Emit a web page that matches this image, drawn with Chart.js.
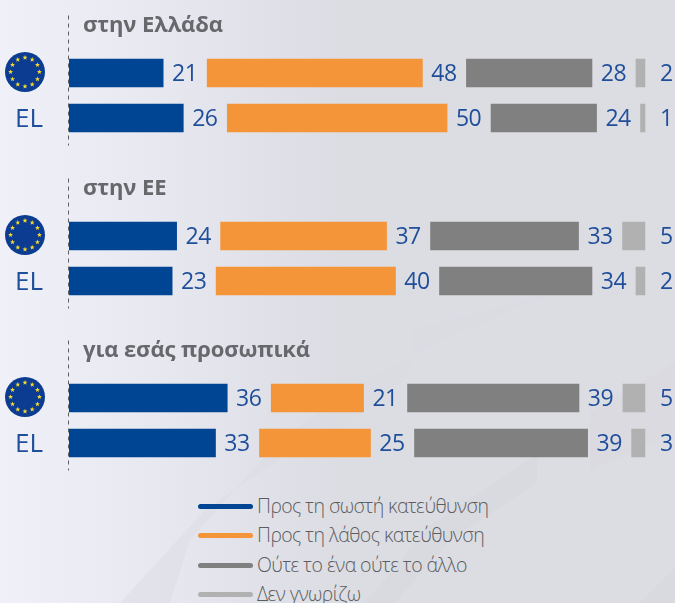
<!DOCTYPE html>
<html>
<head>
<meta charset="utf-8">
<script src="https://cdn.jsdelivr.net/npm/chart.js@4"></script>
<style>
html,body{margin:0;padding:0}
#page{position:relative;width:675px;height:603px;overflow:hidden;
  background:linear-gradient(90deg,#f0f1f8 0,#e6e7ef 170px,#dcdde3 340px,#dcdde3 675px)}
#bg{position:absolute;left:0;top:0}
canvas{position:absolute;left:0}
.leg{position:absolute;left:198px;font:300 19.5px "Open Sans",sans-serif;color:#5c5d61;letter-spacing:-.55px;white-space:nowrap}
.leg i{position:absolute;left:0;top:10px;width:55px;height:5px;border-radius:3px}
.leg span{position:absolute;left:59px;top:-2px}
</style>
</head>
<body>
<div id="page">
<svg id="bg" width="675" height="603">
  <polygon points="120,603 205,510 290,452 340,432 413,368 413,330 553,293 430,345 340,395 275,445 190,540 170,603" fill="#d9dae0" opacity=".4"/>
  <polygon points="537,455 537,483 450,540 395,603 365,603 430,525" fill="#d7d8dd" opacity=".6"/>
  <polygon points="590,413 675,362 675,432 590,470" fill="#d7d8dd" opacity=".5"/>
  <polygon points="640,603 675,568 675,603" fill="#d7d8dd" opacity=".7"/>
</svg>
<canvas id="c0" width="675" height="162" style="top:0"></canvas>
<canvas id="c1" width="675" height="162" style="top:163px"></canvas>
<canvas id="c2" width="675" height="162" style="top:325px"></canvas>
<div id="legend"></div>
</div>
<script>
const groupTitles = ['στην Ελλάδα', 'στην ΕΕ', 'για εσάς προσωπικά'];
const rowLabels = ['EU', 'EL'];
// two rows per group: EU, EL
const rightWay = [21, 26, 24, 23, 36, 33];
const wrongWay = [48, 50, 37, 40, 21, 25];
const neither = [28, 24, 33, 34, 39, 39];
const dontKnow = [2, 1, 5, 2, 5, 3];
const seriesNames = ['Προς τη σωστή κατεύθυνση', 'Προς τη λάθος κατεύθυνση', 'Ούτε το ένα ούτε το άλλο', 'Δεν γνωρίζω'];
const seriesColors = ['#004494', '#f39538', '#808080', '#b1b1b1'];

const allSeries = [rightWay, wrongWay, neither, dontKnow];
const gapUnits = 9.91;   // white space between segments, in axis units
const xMax = 136.5;

function drawFlag(ctx, x, y, r) {
  ctx.save();
  ctx.fillStyle = '#0c3c92';
  ctx.beginPath();
  ctx.arc(x, y, r, 0, Math.PI * 2);
  ctx.fill();
  ctx.fillStyle = '#f6d92e';
  for (let i = 0; i < 12; i++) {
    const a = i * Math.PI / 6;
    const sx = x + Math.sin(a) * r * 0.72, sy = y - Math.cos(a) * r * 0.72;
    ctx.beginPath();
    for (let k = 0; k < 10; k++) {
      const rr = k % 2 ? 1.1 : 2.6;
      const b = k * Math.PI / 5;
      ctx.lineTo(sx + Math.sin(b) * rr, sy - Math.cos(b) * rr);
    }
    ctx.fill();
  }
  ctx.restore();
}

const extras = {
  id: 'extras',
  afterDatasetsDraw(chart, args, opts) {
    const ctx = chart.ctx, yScale = chart.scales.y;
    const axisX = chart.chartArea.left - 0.5;
    ctx.save();
    // dashed divider
    ctx.strokeStyle = '#5f6063';
    ctx.setLineDash([4, 4]);
    ctx.lineWidth = 1;
    ctx.beginPath();
    ctx.moveTo(axisX, yScale.top - 35);
    ctx.lineTo(axisX, yScale.bottom + 5);
    ctx.stroke();
    ctx.setLineDash([]);
    // group title
    ctx.font = '700 22px "Open Sans"';
    ctx.letterSpacing = '-0.1px';
    ctx.fillStyle = '#67686b';
    ctx.textAlign = 'left';
    ctx.textBaseline = 'middle';
    ctx.fillText(opts.title, 83, 26);
    ctx.letterSpacing = '0px';
    // value labels
    ctx.font = '400 23px "Open Sans"';
    ctx.letterSpacing = '-0.5px';
    ctx.fillStyle = '#1f4e9a';
    ctx.textAlign = 'center';
    chart.data.datasets.forEach((ds, i) => {
      if (!ds.printed) return;
      chart.getDatasetMeta(i).data.forEach((bar, j) => {
        ctx.fillText(ds.printed[j], bar.x + 21.5, bar.y + 1);
      });
    });
    ctx.restore();
    drawFlag(ctx, 25, yScale.getPixelForValue(0) - 1, 20);
  }
};

groupTitles.forEach((title, g) => {
  const rows = [g * 2, g * 2 + 1];
  const totals = rows.map(r => allSeries.reduce((s, a) => s + a[r], 0));
  const datasets = [];
  allSeries.forEach((values, s) => {
    const printed = rows.map(r => values[r]);
    datasets.push({
      label: seriesNames[s],
      data: printed.map((v, i) => v / totals[i] * 100),
      printed: printed,
      backgroundColor: seriesColors[s],
      barThickness: 28
    });
    if (s < allSeries.length - 1) {
      datasets.push({ label: 'gap', data: rows.map(() => gapUnits), backgroundColor: 'transparent', barThickness: 28 });
    }
  });
  new Chart(document.getElementById('c' + g), {
    type: 'bar',
    data: { labels: rowLabels, datasets: datasets },
    plugins: [extras],
    options: {
      indexAxis: 'y',
      responsive: false,
      animation: false,
      layout: { padding: { top: 50.5, bottom: 21.5 } },
      scales: {
        x: { stacked: true, display: false, min: 0, max: xMax },
        y: {
          stacked: true,
          afterFit(scale) { scale.width = 69; scale.paddingTop = 0; scale.paddingBottom = 0; },
          grid: { display: false },
          border: { display: false },
          ticks: {
            padding: 18,
            labelOffset: 2,
            color: '#1f4e9a',
            font: { family: '"Open Sans"', size: 26 },
            callback(v) { return this.getLabelForValue(v) === 'EU' ? '' : this.getLabelForValue(v); }
          }
        }
      },
      plugins: {
        legend: { display: false },
        tooltip: { enabled: false },
        extras: { title: title }
      }
    }
  });
});

// legend
const legendTops = [494, 523, 553, 582];
const legendEl = document.getElementById('legend');
seriesNames.forEach((name, i) => {
  const row = document.createElement('div');
  row.className = 'leg';
  row.style.top = legendTops[i] + 'px';
  row.innerHTML = '<i style="background:' + seriesColors[i] + '"></i><span>' + name + '</span>';
  legendEl.appendChild(row);
});
</script>
</body>
</html>
